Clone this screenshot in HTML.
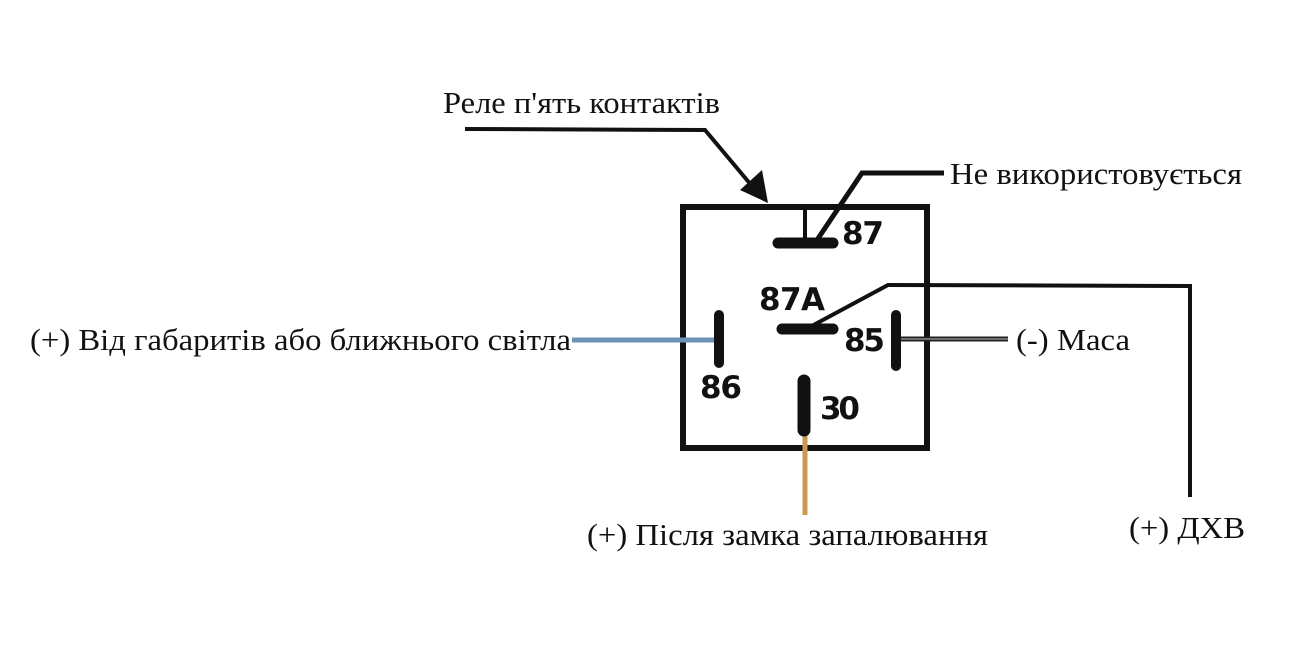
<!DOCTYPE html>
<html><head><meta charset="utf-8"><style>
html,body{margin:0;padding:0;background:#fff;}
svg{display:block}
.s{font-family:"Liberation Serif",serif;font-size:31px;fill:#111}
.b{font-family:"DejaVu Sans","Liberation Sans",sans-serif;font-weight:bold;font-size:31px;fill:#111}
</style></head><body>
<svg width="1296" height="657" viewBox="0 0 1296 657">
<rect x="683" y="207" width="244" height="241" fill="none" stroke="#111" stroke-width="6"/>
<polyline points="465,129 705,130 752,186" fill="none" stroke="#111" stroke-width="4"/>
<polygon points="740,190 762,170 768,203" fill="#111"/>
<line x1="805" y1="207" x2="805" y2="243" stroke="#111" stroke-width="4"/>
<line x1="778" y1="243" x2="833" y2="243" stroke="#111" stroke-width="11" stroke-linecap="round"/>
<polyline points="815,243 862,173 944,173" fill="none" stroke="#111" stroke-width="5"/>
<line x1="782" y1="329" x2="833" y2="329" stroke="#111" stroke-width="11" stroke-linecap="round"/>
<polyline points="808,328 888,285 1190,286 1190,497" fill="none" stroke="#111" stroke-width="4"/>
<line x1="572" y1="340" x2="717" y2="340" stroke="#6f93b8" stroke-width="5"/>
<line x1="719" y1="315" x2="719" y2="363" stroke="#111" stroke-width="10" stroke-linecap="round"/>
<line x1="900" y1="339" x2="1008" y2="339" stroke="#222" stroke-width="5"/>
<line x1="900" y1="339" x2="1008" y2="339" stroke="#bbb" stroke-width="1"/>
<line x1="896" y1="315" x2="896" y2="366" stroke="#111" stroke-width="10" stroke-linecap="round"/>
<line x1="805" y1="430" x2="805" y2="515" stroke="#c89b50" stroke-width="5"/>
<line x1="804" y1="381" x2="804" y2="430" stroke="#111" stroke-width="13" stroke-linecap="round"/>
<text class="b" x="842" y="244" textLength="42">87</text>
<text class="b" x="759" y="310" textLength="66">87A</text>
<text class="b" x="844" y="351" textLength="41">85</text>
<text class="b" x="700" y="398" textLength="42">86</text>
<text class="b" x="820" y="419" textLength="40">30</text>
<text class="s" x="443" y="113" textLength="277" lengthAdjust="spacingAndGlyphs">Реле п'ять контактів</text>
<text class="s" x="950" y="184" textLength="292" lengthAdjust="spacingAndGlyphs">Не використовується</text>
<text class="s" x="30" y="350" textLength="541" lengthAdjust="spacingAndGlyphs">(+) Від габаритів або ближнього світла</text>
<text class="s" x="1016" y="350" textLength="114" lengthAdjust="spacingAndGlyphs">(-) Маса</text>
<text class="s" x="587" y="545" textLength="401" lengthAdjust="spacingAndGlyphs">(+) Після замка запалювання</text>
<text class="s" x="1129" y="538" textLength="116" lengthAdjust="spacingAndGlyphs">(+) ДХВ</text>
</svg>
</body></html>
